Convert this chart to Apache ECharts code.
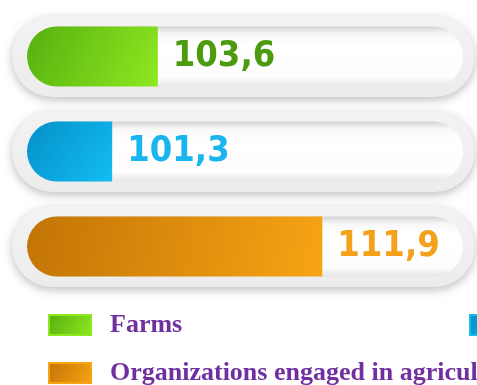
<!DOCTYPE html>
<html>
<head>
<meta charset="utf-8">
<style>
  html, body { margin: 0; padding: 0; background: #ffffff; }
  #chart { width: 477px; height: 385px; }
</style>
<script src="https://cdn.jsdelivr.net/npm/echarts@6/dist/echarts.min.js"></script>
</head>
<body>
<div id="chart"></div>
<script>
// Production index by type of producer (previous year = 100)
const categories = ['Farms', 'Households', 'Organizations engaged in agricultural production'];
const farmsValues = [103.6, '-', '-'];
const householdValues = ['-', 101.3, '-'];
const organizationValues = ['-', '-', 111.9];
const axisMin = 97;
const axisMax = 119;

const palette = {
  farms: { dark: '#56b010', light: '#8ee820', text: '#4c9a0e' },
  households: { dark: '#0590c8', light: '#12bdf2', text: '#19b5ee' },
  organizations: { dark: '#c27406', light: '#f7a414', text: '#f5a01b' }
};

function barFill(p) {
  return new echarts.graphic.LinearGradient(0, 0, 1, 1, [
    { offset: 0, color: p.dark },
    { offset: 1, color: p.light }
  ]);
}

function valueSeries(name, data, p) {
  return {
    name: name,
    type: 'bar',
    stack: 'value',
    xAxisIndex: 1,
    yAxisIndex: 1,
    data: data,
    barWidth: 60,
    z: 5,
    itemStyle: {
      color: barFill(p),
      borderRadius: [30, 0, 0, 30]
    },
    label: {
      show: true,
      position: 'right',
      distance: 15,
      color: p.text,
      fontFamily: '"DejaVu Sans Condensed", "DejaVu Sans", sans-serif',
      fontWeight: 'bold',
      fontSize: 36,
      formatter: (d) => String(d.value).replace('.', ',')
    }
  };
}

const legendText = {
  color: '#7030a0',
  fontFamily: '"Liberation Serif", "DejaVu Serif", serif',
  fontWeight: 'bold',
  fontSize: 26,
  padding: [0, 0, 0, 14]
};

function legendItem(name, p, left, top) {
  return {
    data: [{
      name: name,
      itemStyle: {
        color: new echarts.graphic.LinearGradient(0, 0, 1, 1, [
          { offset: 0, color: p.dark },
          { offset: 1, color: p.light }
        ]),
        borderColor: p.light,
        borderWidth: 2
      }
    }],
    left: left,
    top: top,
    padding: 0,
    icon: 'rect',
    itemWidth: 42,
    itemHeight: 20,
    selectedMode: false,
    textStyle: legendText
  };
}

const chart = echarts.init(document.getElementById('chart'), null, { renderer: 'canvas' });

chart.setOption({
  backgroundColor: '#ffffff',
  animation: false,
  grid: [
    { left: 12, right: 2, top: 9, height: 285 },
    { left: 27, right: 14, top: 9, height: 285 }
  ],
  xAxis: [
    { gridIndex: 0, type: 'value', min: 0, max: 1, show: false },
    { gridIndex: 1, type: 'value', min: axisMin, max: axisMax, show: false },
    { gridIndex: 1, type: 'value', min: axisMin, max: axisMax, show: false }
  ],
  yAxis: [
    { gridIndex: 0, type: 'category', data: categories, inverse: true, show: false },
    { gridIndex: 1, type: 'category', data: categories, inverse: true, show: false },
    { gridIndex: 1, type: 'category', data: categories, inverse: true, show: false }
  ],
  legend: [
    legendItem(categories[0], palette.farms, 48, 312),
    legendItem(categories[1], palette.households, 469, 312),
    legendItem(categories[2], palette.organizations, 48, 360)
  ],
  series: [
    {
      // outer frame of each row
      name: 'frame',
      type: 'bar',
      xAxisIndex: 0,
      yAxisIndex: 0,
      data: [1, 1, 1],
      barWidth: 81,
      z: 1,
      silent: true,
      itemStyle: {
        color: new echarts.graphic.LinearGradient(0, 0, 0, 1, [
          { offset: 0, color: '#f3f3f3' },
          { offset: 1, color: '#ececec' }
        ]),
        borderRadius: 41,
        shadowColor: 'rgba(0,0,0,0.25)',
        shadowBlur: 10,
        shadowOffsetY: 3
      }
    },
    {
      // white track behind each value bar
      name: 'track',
      type: 'bar',
      xAxisIndex: 2,
      yAxisIndex: 2,
      data: [axisMax, axisMax, axisMax],
      barWidth: 60,
      z: 2,
      silent: true,
      itemStyle: {
        color: new echarts.graphic.LinearGradient(0, 0, 0, 1, [
          { offset: 0, color: '#d4d4d4' },
          { offset: 0.12, color: '#f7f7f7' },
          { offset: 0.3, color: '#ffffff' },
          { offset: 0.85, color: '#fdfdfd' },
          { offset: 1, color: '#e6e6e6' }
        ]),
        borderRadius: 30
      }
    },
    valueSeries(categories[0], farmsValues, palette.farms),
    valueSeries(categories[1], householdValues, palette.households),
    valueSeries(categories[2], organizationValues, palette.organizations)
  ]
});
</script>
</body>
</html>
